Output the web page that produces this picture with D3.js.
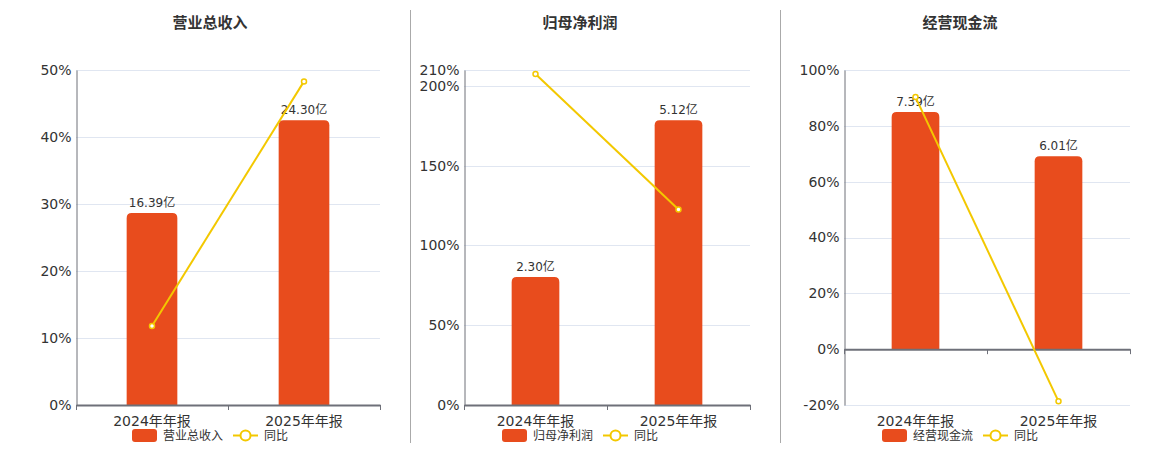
<!DOCTYPE html>
<html>
<head>
<meta charset="utf-8">
<script src="https://cdn.jsdelivr.net/npm/d3@7"></script>
<style>
  body { margin: 0; background: #fff; }
  svg text { font-family: "DejaVu Sans", "Noto Sans CJK SC", sans-serif; }
</style>
</head>
<body>
<div id="chart"></div>
<script>
// chart data
var categories = ["2024年年报", "2025年年报"];
var titles = ["营业总收入", "归母净利润", "经营现金流"];
var legendLine = "同比";

var revenueValues = [16.39, 24.30];
var revenueYoY = [11.8, 48.3];
var profitValues = [2.30, 5.12];
var profitYoY = [207.5, 122.6];
var cashValues = [7.39, 6.01];
var cashYoY = [90.3, -18.7];

var revenueTicks = [0, 10, 20, 30, 40, 50];
var profitTicks = [0, 50, 100, 150, 200, 210];
var cashTicks = [-20, 0, 20, 40, 60, 80, 100];

var svgWidth = 1160;
var svgHeight = 450;

var barColor = "#e84c1d";
var lineColor = "#f3c800";
var textColor = "#333";
var axisColor = "#6e7079";
var gridColor = "#e0e6f1";

// layout for each of the three panels
var panels = [
    { title: titles[0], bars: revenueValues, yoy: revenueYoY, ticks: revenueTicks, left: 76, right: 380, center: 210 },
    { title: titles[1], bars: profitValues, yoy: profitYoY, ticks: profitTicks, left: 464, right: 750, center: 580 },
    { title: titles[2], bars: cashValues, yoy: cashYoY, ticks: cashTicks, left: 844, right: 1130, center: 960 }
];
var plotTop = 70;
var plotBottom = 405;

var svg = d3.select("#chart")
    .append("svg")
    .attr("width", svgWidth)
    .attr("height", svgHeight);

// vertical dividers between panels
[410, 780].forEach(function (x) {
    svg.append("line")
        .attr("x1", x + 0.5).attr("x2", x + 0.5)
        .attr("y1", 10).attr("y2", 443)
        .attr("stroke", "#aaa")
        .attr("stroke-width", 1);
});

panels.forEach(function (p) {
    var g = svg.append("g");

    var xBand = d3.scaleBand()
        .domain(categories)
        .range([p.left, p.right]);

    var yPct = d3.scaleLinear()
        .domain([d3.min(p.ticks), d3.max(p.ticks)])
        .range([plotBottom, plotTop]);

    var y0 = yPct(0);

    // bars use their own hidden scale, tallest bar at 85% of positive height
    var yBar = d3.scaleLinear()
        .domain([0, d3.max(p.bars) / 0.85])
        .range([y0, plotTop]);

    // title
    g.append("text")
        .attr("x", p.center)
        .attr("y", 28)
        .attr("text-anchor", "middle")
        .attr("font-size", 15)
        .attr("font-weight", "bold")
        .attr("fill", textColor)
        .text(p.title);

    // gridlines
    g.selectAll(".grid")
        .data(p.ticks.filter(function (t) { return t !== 0; }))
        .enter()
        .append("line")
        .attr("x1", p.left).attr("x2", p.right)
        .attr("y1", function (d) { return Math.round(yPct(d)) + 0.5; })
        .attr("y2", function (d) { return Math.round(yPct(d)) + 0.5; })
        .attr("stroke", gridColor)
        .attr("stroke-width", 1);

    // y axis
    var leftAxis = d3.axisLeft(yPct)
        .tickValues(p.ticks)
        .tickFormat(function (d) { return d + "%"; })
        .tickSize(0)
        .tickPadding(5);

    var yAxis = g.append("g")
        .attr("transform", "translate(" + (p.left + 0.5) + ",0)")
        .call(leftAxis);
    yAxis.select(".domain").attr("stroke", axisColor);
    yAxis.selectAll("text")
        .attr("font-size", 14)
        .attr("fill", textColor)
        .attr("font-family", "DejaVu Sans, sans-serif");

    // bars
    var bw = xBand.bandwidth() / 3;
    g.selectAll(".bar")
        .data(p.bars)
        .enter()
        .append("path")
        .attr("fill", barColor)
        .attr("d", function (d, i) {
            var x = xBand(categories[i]) + xBand.bandwidth() / 2 - bw / 2;
            var top = yBar(d);
            var r = 5;
            return "M" + x + "," + y0 +
                "V" + (top + r) +
                "Q" + x + "," + top + " " + (x + r) + "," + top +
                "H" + (x + bw - r) +
                "Q" + (x + bw) + "," + top + " " + (x + bw) + "," + (top + r) +
                "V" + y0 + "Z";
        });

    // bar value labels
    g.selectAll(".barLabel")
        .data(p.bars)
        .enter()
        .append("text")
        .attr("x", function (d, i) { return xBand(categories[i]) + xBand.bandwidth() / 2; })
        .attr("y", function (d) { return yBar(d) - 6; })
        .attr("text-anchor", "middle")
        .attr("font-size", 12)
        .attr("fill", textColor)
        .text(function (d) { return d.toFixed(2) + "亿"; });

    // x axis
    var bottomAxis = d3.axisBottom(xBand)
        .tickSize(0)
        .tickPadding(8);
    var xAxis = g.append("g")
        .attr("transform", "translate(0," + y0 + ")")
        .call(bottomAxis);
    xAxis.select(".domain").attr("stroke", axisColor).attr("stroke-width", 2);
    xAxis.selectAll("text")
        .attr("font-size", 14)
        .attr("fill", textColor)
        .attr("y", plotBottom - y0 + 11);

    // band boundary ticks
    var bounds = [p.left, p.left + xBand.bandwidth(), p.right];
    g.selectAll(".xtick")
        .data(bounds)
        .enter()
        .append("line")
        .attr("x1", function (d) { return d + 0.5; })
        .attr("x2", function (d) { return d + 0.5; })
        .attr("y1", y0)
        .attr("y2", y0 + 5)
        .attr("stroke", axisColor)
        .attr("stroke-width", 1);

    // yoy line
    var line = d3.line()
        .x(function (d, i) { return xBand(categories[i]) + xBand.bandwidth() / 2; })
        .y(function (d) { return yPct(d); });

    g.append("path")
        .datum(p.yoy)
        .attr("d", line)
        .attr("fill", "none")
        .attr("stroke", lineColor)
        .attr("stroke-width", 2);

    g.selectAll(".pt")
        .data(p.yoy)
        .enter()
        .append("circle")
        .attr("cx", function (d, i) { return xBand(categories[i]) + xBand.bandwidth() / 2; })
        .attr("cy", function (d) { return yPct(d); })
        .attr("r", 2.5)
        .attr("fill", "#fff")
        .attr("stroke", lineColor)
        .attr("stroke-width", 1.5);

    // legend
    var legend = g.append("g")
        .attr("transform", "translate(" + (p.center - 78) + ",429)");
    legend.append("rect")
        .attr("x", 0).attr("y", 0)
        .attr("width", 25).attr("height", 13)
        .attr("rx", 3)
        .attr("fill", barColor);
    var t1 = legend.append("text")
        .attr("x", 31)
        .attr("y", 11)
        .attr("font-size", 12)
        .attr("fill", textColor)
        .text(p.title);
    var lx = 31 + t1.node().getComputedTextLength() + 10;
    legend.append("line")
        .attr("x1", lx).attr("x2", lx + 25)
        .attr("y1", 6.5).attr("y2", 6.5)
        .attr("stroke", lineColor)
        .attr("stroke-width", 2);
    legend.append("circle")
        .attr("cx", lx + 12.5)
        .attr("cy", 6.5)
        .attr("r", 5)
        .attr("fill", "#fff")
        .attr("stroke", lineColor)
        .attr("stroke-width", 2);
    legend.append("text")
        .attr("x", lx + 31)
        .attr("y", 11)
        .attr("font-size", 12)
        .attr("fill", textColor)
        .text(legendLine);
});
</script>
</body>
</html>
